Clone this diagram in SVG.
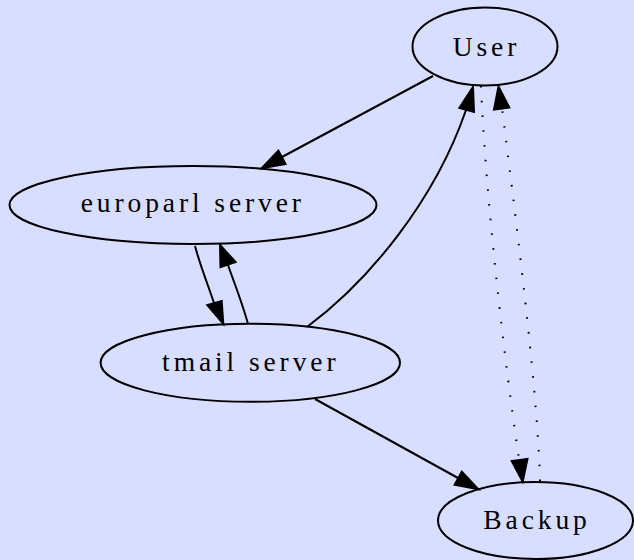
<svg xmlns="http://www.w3.org/2000/svg" width="634" height="560" viewBox="0 0 634 560">
<defs>
<style>
.node ellipse{fill:none;stroke:#000;stroke-width:2}
.node text{font-family:"Liberation Serif","Times New Roman",serif;font-size:27.5px;letter-spacing:3.9px;text-anchor:middle;fill:#000}
.edge path{fill:none;stroke:#000;stroke-width:2}
.edge path.dot{stroke-dasharray:1.6 13.2;stroke-linecap:butt}
.edge polygon{fill:#000;stroke:#000;stroke-width:2;stroke-linejoin:miter}
</style>
</defs>
<rect x="0" y="0" width="634" height="560" fill="#d8deff"/>
<g id="edges">
<g class="edge" id="user_europarl">
<path d="M433,76 L282,157"/>
<polygon points="285.5,164 261.7,168.3 278.4,150.8"/>
</g>
<g class="edge" id="europarl_tmail">
<path d="M195,246 C200,265 208,285 214,303"/>
<polygon points="207.3,305 223.3,323.7 221.7,301"/>
</g>
<g class="edge" id="tmail_europarl">
<path d="M248,324 C243,305 235,285 228,265"/>
<polygon points="235.5,262 220,245 220.5,267"/>
</g>
<g class="edge" id="tmail_user">
<path d="M307,327 C370,280 435,200 466,110"/>
<polygon points="459.3,108 473,87 474,112"/>
</g>
<g class="edge" id="tmail_backup">
<path d="M315,399 L458,478"/>
<polygon points="454.6,484.8 478.3,489.3 461.8,471.6"/>
</g>
<g class="edge" id="user_backup">
<path class="dot" d="M481,86 C485,180 500,330 519,459"/>
<polygon points="511.7,461 522.7,481.7 527.5,459"/>
</g>
<g class="edge" id="backup_user">
<path class="dot" d="M540,481 C538,400 520,250 502,108"/>
<polygon points="494,109.5 498.5,86.5 509.3,107.5"/>
</g>
</g>
<g class="node" id="User">
<ellipse cx="485" cy="46.5" rx="72.5" ry="39"/>
<text x="486.5" y="56">User</text>
</g>
<g class="node" id="europarl">
<ellipse cx="193" cy="205" rx="183.5" ry="39"/>
<text x="192.8" y="212">europarl server</text>
</g>
<g class="node" id="tmail">
<ellipse cx="250.3" cy="362.8" rx="149.7" ry="39"/>
<text x="250.8" y="370.5">tmail server</text>
</g>
<g class="node" id="Backup">
<ellipse cx="535.5" cy="520.5" rx="97.5" ry="38.5"/>
<text x="537" y="528.5">Backup</text>
</g>
</svg>
